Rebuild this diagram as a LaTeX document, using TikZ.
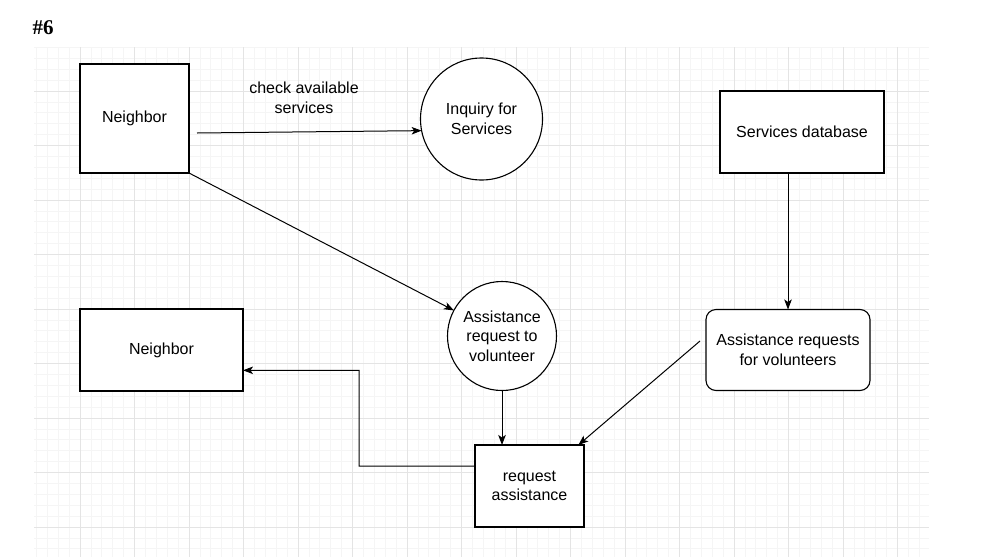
\documentclass[tikz,border=0pt]{standalone}
\usepackage{fontspec}
\setmainfont{Liberation Sans}
\newfontfamily\titlefont{Liberation Serif}
\usetikzlibrary{arrows.meta}
\definecolor{grid_minor}{RGB}{245,245,245}
\definecolor{grid_major}{RGB}{228,228,228}

\begin{document}
\begin{tikzpicture}[->,>={Stealth[length=10pt,width=7.5pt,inset=2.5pt]},line width=1pt,x=1pt,y=-1pt,font=\fontsize{16}{19.5}\selectfont]
    \tikzstyle{box}=[draw=black, rectangle, inner sep=0pt, outer sep=0pt, fill=white, text=black, align=center, line width=1.1pt]
    \tikzstyle{proc}=[style=box, circle]
    \tikzstyle{store}=[style=box, rounded corners=10pt]
    \tikzstyle{minor}=[-, draw=grid_minor, line width=0.8pt]
    \tikzstyle{major}=[-, draw=grid_major, line width=0.9pt]

    \useasboundingbox (0,0) rectangle (985,557);

    % background grid
    \foreach \i in {0,...,81} \draw[minor] (36.4+\i*10.9,47) -- (36.4+\i*10.9,557);
    \foreach \j in {0,...,46} \draw[minor] (34,47.4+\j*10.9) -- (929,47.4+\j*10.9);
    \foreach \i in {0,...,15} \draw[major] (80+\i*54.5,47) -- (80+\i*54.5,557);
    \foreach \j in {0,...,8} \draw[major] (34,91+\j*54.5) -- (929,91+\j*54.5);

    \node[font=\titlefont\bfseries\fontsize{21}{25}\selectfont] (title) at (43,28) {\#6};

    \node[box, minimum width=109pt, minimum height=109pt] (nb1) at (134.5,118.5) {Neighbor};
    \node[proc, minimum size=122pt]                       (inq) at (481.5,119)   {Inquiry for\\Services};
    \node[box, minimum width=164pt, minimum height=82pt]  (sdb) at (802,132)     {Services database};
    \node[proc, minimum size=109pt]                       (arq) at (502,336)     {Assistance\\request to\\volunteer};
    \node[store, minimum width=164pt, minimum height=81pt] (arv) at (788,350)    {Assistance requests\\for volunteers};
    \node[box, minimum width=163pt, minimum height=82pt]  (nb2) at (161.5,350)   {Neighbor};
    \node[box, minimum width=109pt, minimum height=82pt]  (ras) at (529.5,486)   {request\\assistance};
    \node[align=center] (chk) at (304,98) {check available\\services};

    \coordinate (c1) at (197,133);
    \coordinate (c2) at (700,341);
    \coordinate (c3) at (359,466);

    \path
     (c1) edge (inq.191)
     (nb1.south east) edge (arq.152)
     (arq.south) edge (arq.south |- ras.north)
     (arv.north |- sdb.south) edge (arv.north)
     (c2) edge (ras.40)
     ;
    \draw (ras.160) -- (c3) |- (nb2.346);
\end{tikzpicture}
\end{document}
